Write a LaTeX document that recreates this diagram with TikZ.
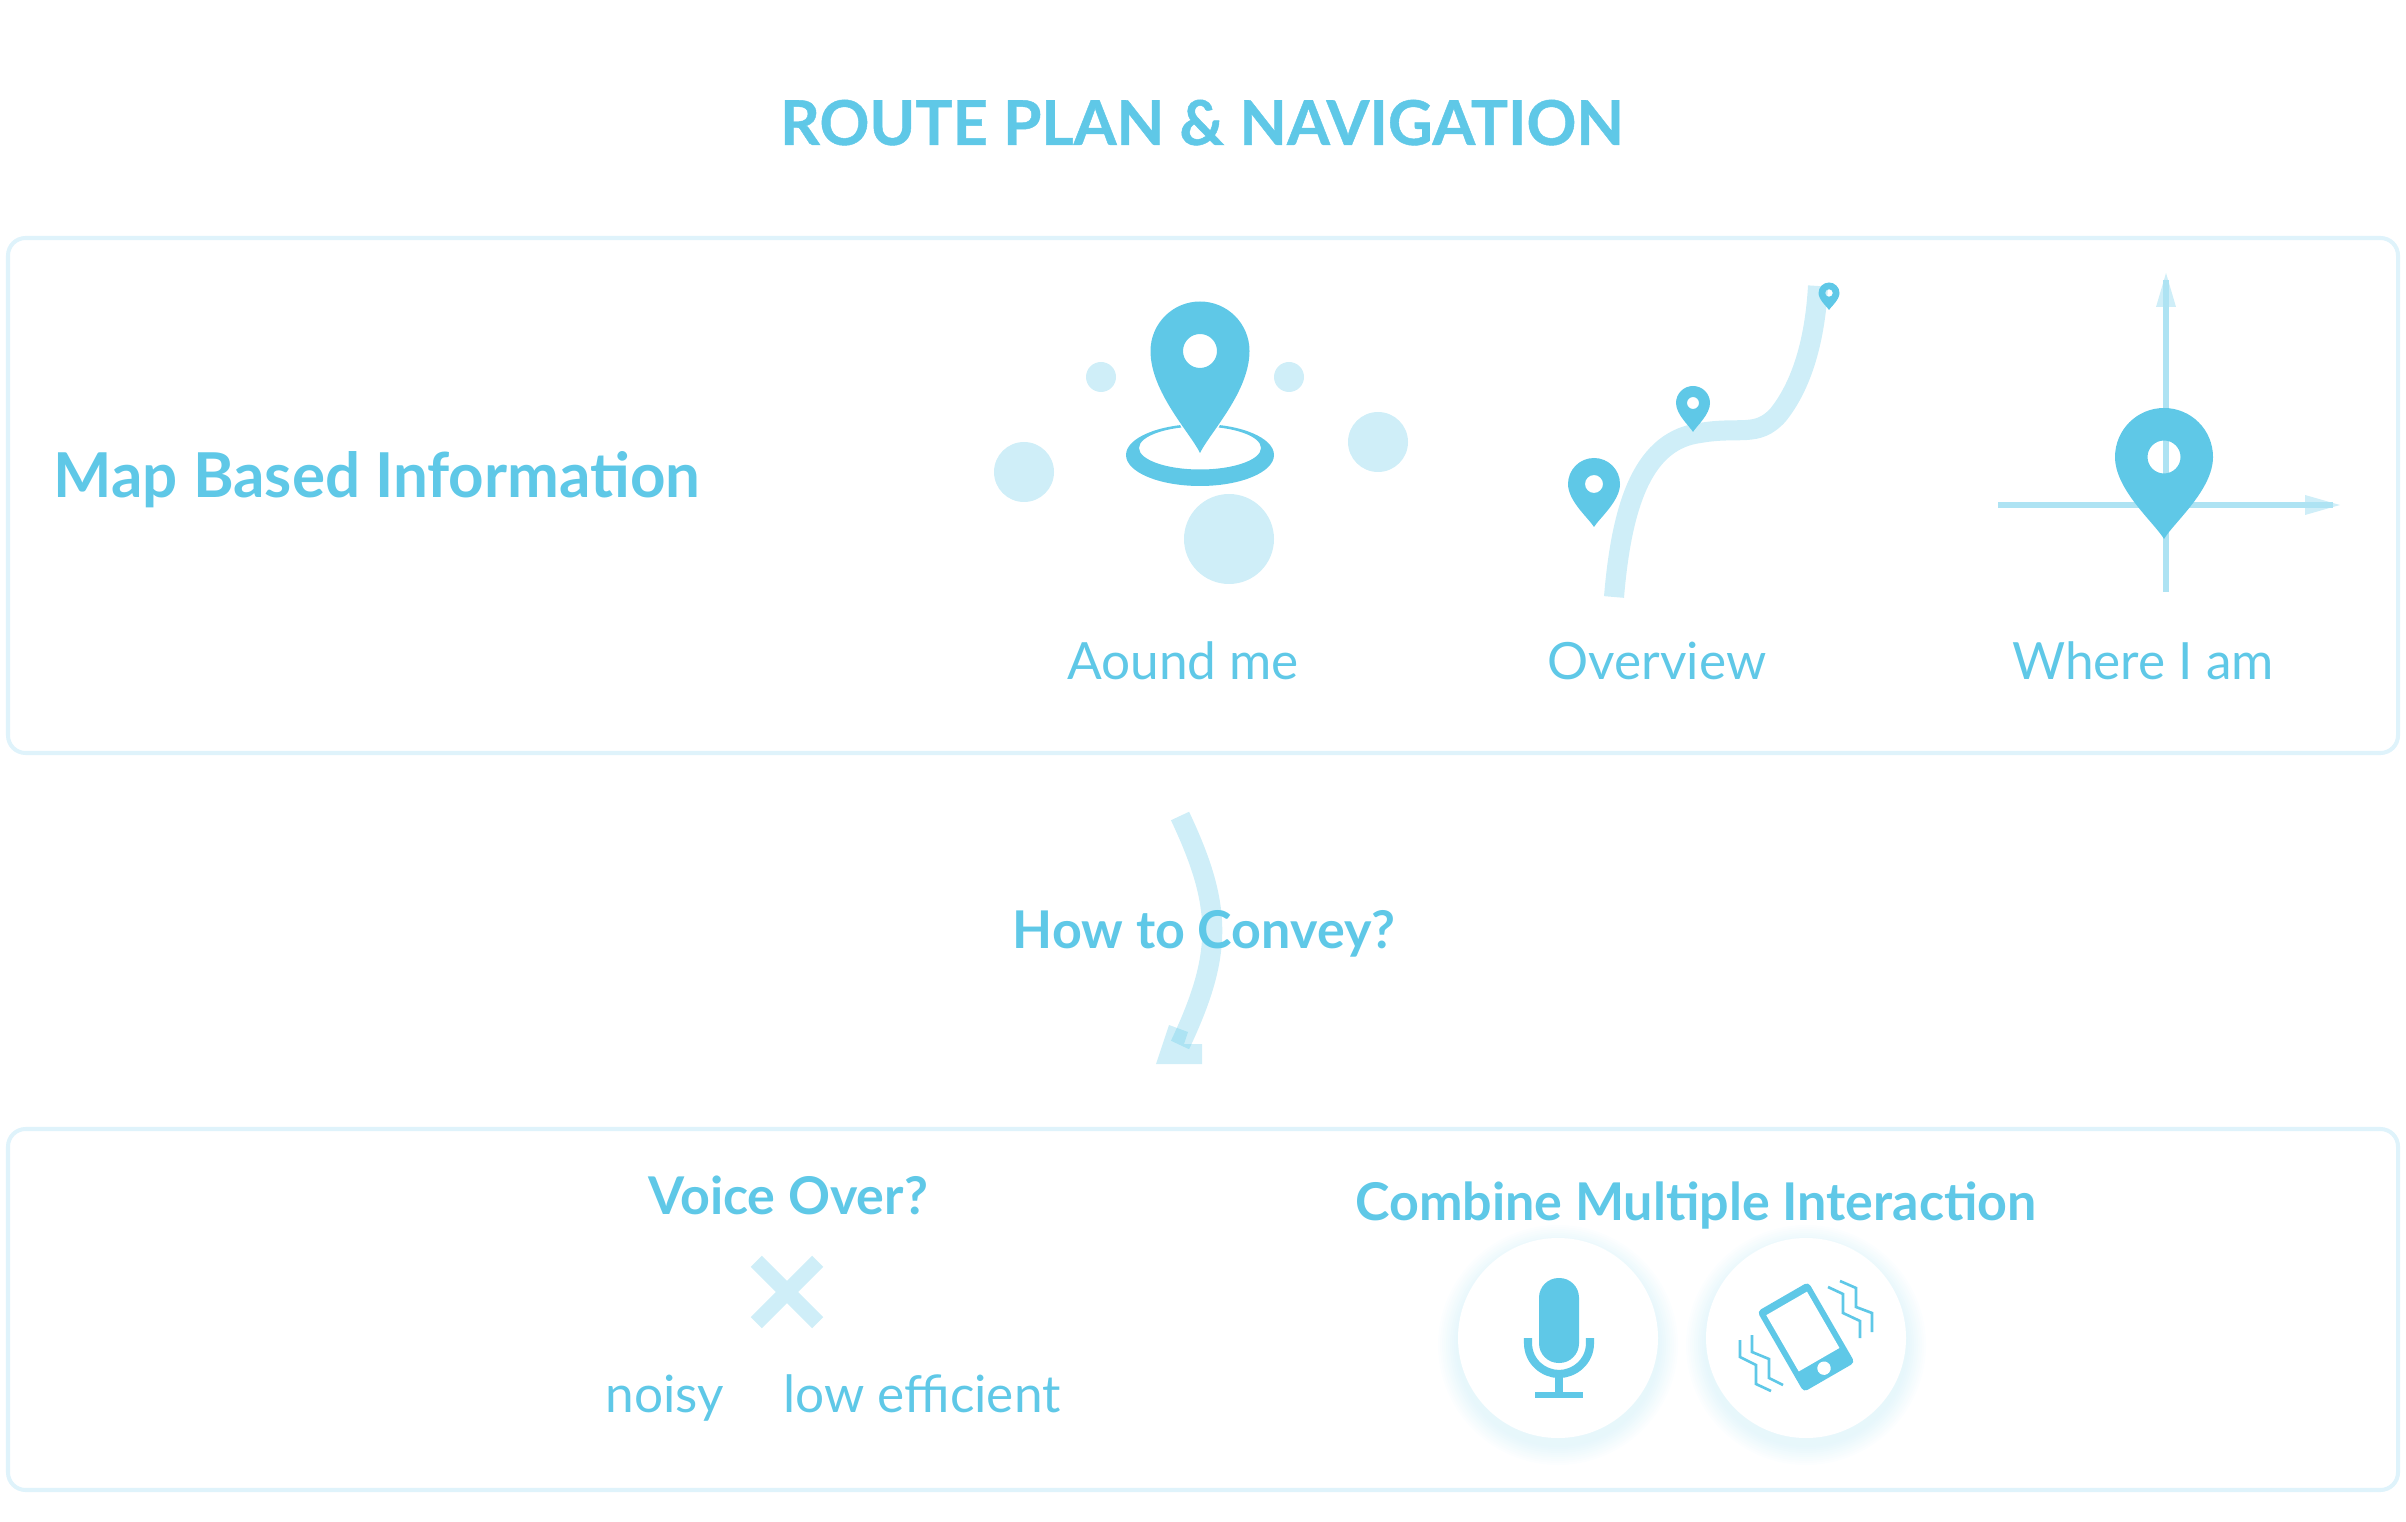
\documentclass[tikz,border=0pt]{standalone}
\usepackage{fontspec}
\setmainfont{Lato}
\newfontfamily\titlefont{Lato}[BoldFeatures={FakeBold=0.7}]
\usepackage{xcolor}
\usetikzlibrary{positioning}
\definecolor{pinblue}{RGB}{95,200,231}
\definecolor{axisblue}{RGB}{174,227,243}
\definecolor{boxblue}{RGB}{223,243,251}
\tikzset{
  panel/.style={draw=boxblue, line width=1.15pt, rounded corners=5pt},
  pale/.style={fill=pinblue, fill opacity=0.3},
  palestroke/.style={draw=pinblue, draw opacity=0.3},
  pinfill/.style={fill=pinblue, even odd rule},
  buzz/.style={draw=pinblue, line width=0.75pt},
  title/.style={text=pinblue, inner sep=0pt, font=\fontsize{17.6}{21}\titlefont\bfseries, anchor=base},
  heading/.style={text=pinblue, inner sep=0pt, font=\fontsize{14.8}{18}\selectfont\bfseries, anchor=base},
  caption/.style={text=pinblue, inner sep=0pt, font=\fontsize{14.6}{18}\selectfont, anchor=base},
  disc/.style={circle, fill=white, minimum size=200*0.01cm, inner sep=0pt}
}
% pin at (x,y): head radius, tip distance, hole radius
\newcommand{\mappin}[5]{
  \fill[pinfill] (#1-#3,#2) arc[start angle=180, end angle=360, radius=#3]
    .. controls (#1+#3,#2+0.4*#4) and (#1+0.2*#3,#2+0.8*#4) .. (#1,#2+#4)
    .. controls (#1-0.2*#3,#2+0.8*#4) and (#1-#3,#2+0.4*#4) .. (#1-#3,#2) -- cycle
    (#1,#2) circle (#5);
}
\begin{document}
\begin{tikzpicture}[x=0.01cm, y=-0.01cm]
  \useasboundingbox (0,0) rectangle (2406,1522);

  % Title
  \node[title] (title) at (1202,145) {ROUTE PLAN \& NAVIGATION};

  % Panels
  \draw[panel] (8,238) rectangle (2398,753);
  \draw[panel] (8,1129) rectangle (2398,1490);

  % Upper panel labels
  \node[text=pinblue, inner sep=0pt, font=\fontsize{17.6}{21}\selectfont\bfseries, anchor=base west] (mapinfo) at (53,498) {Map Based Information};
  \node[caption] (around) at (1183,680) {Aound me};
  \node[caption] (overview) at (1657,680) {Overview};
  \node[caption] (whereami) at (2143,680) {Where I am};

  % Around me
  \fill[pale] (1101,377) circle (15);
  \fill[pale] (1289,377) circle (15);
  \fill[pale] (1024,472) circle (30);
  \fill[pale] (1378,442) circle (30);
  \fill[pale] (1229,539) circle (45);
  \fill[pinblue, even odd rule] (1200,455) ellipse (74 and 31) (1200,448) ellipse (61 and 21.5);
  \draw[white, line width=1pt] (1168,398) -- (1190,440) (1232,398) -- (1210,440);
  \mappin{1200}{351}{49.5}{102}{17}

  % Overview
  \draw[palestroke, line width=5.7pt] (1614,597)
    .. controls (1622,500) and (1645,440) .. (1700,433)
    .. controls (1740,426) and (1757,438) .. (1778,415)
    .. controls (1802,385) and (1815,340) .. (1818,286);
  \mappin{1594}{484}{26}{43}{9}
  \mappin{1693}{403}{17}{29}{6}
  \mappin{1829}{293}{10.5}{17}{3.8}

  % Where I am
  \fill[pale] (2166,273) -- (2176,307) -- (2156,307) -- cycle;
  \fill[pale] (2340,505) -- (2305,495) -- (2305,515) -- cycle;
  \draw[axisblue, line width=1.7pt] (2166,592) -- (2166,280);
  \draw[axisblue, line width=1.7pt] (1998,505) -- (2333,505);
  \mappin{2164}{457}{49}{82}{16.5}

  % Curved arrow
  \draw[palestroke, line width=5.7pt] (1180,816)
    .. controls (1223,907) and (1223,954) .. (1180,1045);
  \fill[pale] (1169,1025) -- (1188,1032) -- (1184,1044) -- (1202,1044)
    -- (1202,1064) -- (1156,1064) -- cycle;
  \node[heading] (convey) at (1204,948) {How to Convey?};

  % Voice over
  \node[heading] (voice) at (788,1214) {Voice Over?};
  \draw[palestroke, line width=4.5pt] (756.3,1261.3) -- (817.7,1322.7)
    (817.7,1261.3) -- (756.3,1322.7);
  \node[caption] (noisy) at (665,1412) {noisy};
  \node[caption] (loweff) at (922,1412) {low efficient};

  % Multiple interaction
  \node[heading] (combine) at (1696,1220) {Combine Multiple Interaction};
  \foreach \discx in {1558,1806} {
    \foreach \grow in {20,18,...,2} {
      \fill[pinblue, opacity=0.014] (\discx,1345) circle (100+\grow);
    }
  }
  \node[disc] (micdisc) at (1558,1338) {};
  \node[disc] (phonedisc) at (1806,1338) {};

  % Microphone
  \fill[pinblue, rounded corners=5.6pt] (1539,1278) rectangle (1579,1363);
  \draw[pinblue, line width=2.3pt] (1528,1338) -- (1528,1343)
    .. controls (1528,1362) and (1544,1374) .. (1559,1374)
    .. controls (1574,1374) and (1590,1362) .. (1590,1343) -- (1590,1338);
  \fill[pinblue] (1555,1374) rectangle (1563,1396);
  \fill[pinblue] (1535,1392) rectangle (1583,1398);

  % Phone
  \begin{scope}[shift={(1806,1337)}, rotate=30]
    \fill[pinfill, rounded corners=1.2pt] (-29.5,-46.5) rectangle (29.5,46.5);
    \fill[white] (-23.5,-38.8) rectangle (23.5,26.2);
    \fill[white] (0,36) circle (6.7);
  \end{scope}
  \draw[buzz] (1740,1340) -- (1740,1357) -- (1756,1365) -- (1756,1384) -- (1771,1391);
  \draw[buzz] (1752,1335) -- (1752,1352) -- (1769,1359) -- (1769,1378) -- (1783,1385);
  \draw[buzz] (1828,1287) -- (1843,1294) -- (1843,1313) -- (1860,1321) -- (1860,1338);
  \draw[buzz] (1840,1281) -- (1856,1288) -- (1856,1307) -- (1872,1313) -- (1872,1332);
\end{tikzpicture}
\end{document}
